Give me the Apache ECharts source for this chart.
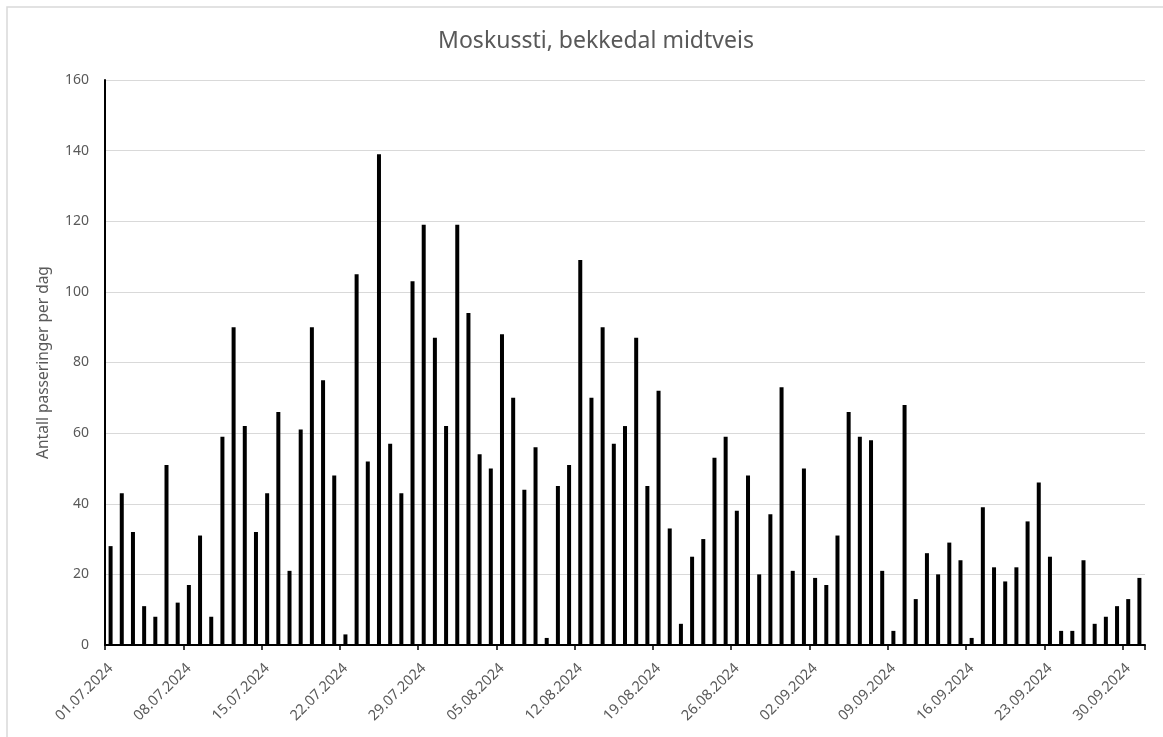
<!DOCTYPE html>
<html>
<head>
<meta charset="utf-8">
<script src="https://cdn.jsdelivr.net/npm/echarts@6/dist/echarts.min.js"></script>
<style>
html,body{margin:0;padding:0;background:#fff;}
#chart{width:1163px;height:737px;}
</style>
</head>
<body>
<div id="chart"></div>
<script>
const titleText = "Moskussti, bekkedal midtveis";
const yAxisName = "Antall passeringer per dag";
const dates = [
"01.07.2024","02.07.2024","03.07.2024","04.07.2024","05.07.2024","06.07.2024","07.07.2024",
"08.07.2024","09.07.2024","10.07.2024","11.07.2024","12.07.2024","13.07.2024","14.07.2024",
"15.07.2024","16.07.2024","17.07.2024","18.07.2024","19.07.2024","20.07.2024","21.07.2024",
"22.07.2024","23.07.2024","24.07.2024","25.07.2024","26.07.2024","27.07.2024","28.07.2024",
"29.07.2024","30.07.2024","31.07.2024","01.08.2024","02.08.2024","03.08.2024","04.08.2024",
"05.08.2024","06.08.2024","07.08.2024","08.08.2024","09.08.2024","10.08.2024","11.08.2024",
"12.08.2024","13.08.2024","14.08.2024","15.08.2024","16.08.2024","17.08.2024","18.08.2024",
"19.08.2024","20.08.2024","21.08.2024","22.08.2024","23.08.2024","24.08.2024","25.08.2024",
"26.08.2024","27.08.2024","28.08.2024","29.08.2024","30.08.2024","31.08.2024","01.09.2024",
"02.09.2024","03.09.2024","04.09.2024","05.09.2024","06.09.2024","07.09.2024","08.09.2024",
"09.09.2024","10.09.2024","11.09.2024","12.09.2024","13.09.2024","14.09.2024","15.09.2024",
"16.09.2024","17.09.2024","18.09.2024","19.09.2024","20.09.2024","21.09.2024","22.09.2024",
"23.09.2024","24.09.2024","25.09.2024","26.09.2024","27.09.2024","28.09.2024","29.09.2024",
"30.09.2024","01.10.2024"
];
const passeringer = [
28,43,32,11,8,51,12,17,31,8,59,90,62,32,43,66,21,61,90,75,48,3,105,
52,139,57,43,103,119,87,62,119,94,54,50,88,70,44,56,2,45,51,109,70,90,57,62,
87,45,72,33,6,25,30,53,59,38,48,20,37,73,21,50,19,17,31,66,59,58,21,
4,68,13,26,20,29,24,2,39,22,18,22,35,46,25,4,4,24,6,8,11,13,19
];
const yTicks = {min: 0, max: 160, interval: 20};

const FONT = "'Noto Sans', 'Liberation Sans', sans-serif";
const TXT = "#595959";
const chart = echarts.init(document.getElementById('chart'), null, {renderer: 'canvas'});
chart.setOption({
  animation: false,
  backgroundColor: '#ffffff',
  textStyle: {fontFamily: FONT},
  graphic: [{
    type: 'rect', silent: true,
    shape: {x: 7, y: 7, width: 1180, height: 760},
    style: {fill: 'none', stroke: '#d9d9d9', lineWidth: 1.5}
  }],
  title: {
    text: titleText,
    left: 591, top: 25, textAlign: 'center',
    textStyle: {fontFamily: FONT, fontSize: 23, fontWeight: 'normal', color: TXT}
  },
  grid: {left: 105, top: 80, right: 18, bottom: 92, containLabel: false},
  xAxis: {
    type: 'category',
    data: dates,
    boundaryGap: true,
    axisLine: {show: true, lineStyle: {color: '#000', width: 2}},
    axisTick: {show: true, interval: 6, length: 5, alignWithLabel: false, lineStyle: {color: '#000', width: 1.5}},
    axisLabel: {interval: 6, rotate: 45, margin: 21, color: TXT, fontSize: 14.5, fontFamily: FONT},
    splitLine: {show: false}
  },
  yAxis: {
    type: 'value',
    min: yTicks.min, max: yTicks.max, interval: yTicks.interval,
    name: yAxisName,
    nameLocation: 'middle',
    nameGap: 53,
    nameTextStyle: {color: TXT, fontSize: 15.5, fontFamily: FONT},
    axisLine: {show: true, lineStyle: {color: '#000', width: 2}},
    axisTick: {show: false},
    axisLabel: {color: TXT, fontSize: 14, margin: 16, fontFamily: FONT},
    splitLine: {show: true, lineStyle: {color: '#d9d9d9', width: 1}}
  },
  series: [{
    type: 'bar',
    data: passeringer,
    barWidth: 4,
    itemStyle: {color: '#000000'}
  }]
});
</script>
</body>
</html>
